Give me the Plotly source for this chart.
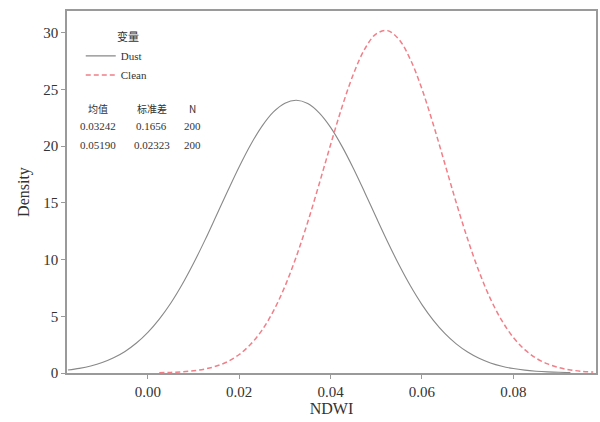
import plotly.graph_objects as go

# Density curves
x_dust = [-0.0175, -0.0150, -0.0125, -0.0100, -0.0075, -0.0050, -0.0025, 0.0000,
          0.0025, 0.0050, 0.0075, 0.0100, 0.0125, 0.0150, 0.0175, 0.0200,
          0.0225, 0.0250, 0.0275, 0.0300, 0.0325, 0.0350, 0.0375, 0.0400,
          0.0425, 0.0450, 0.0475, 0.0500, 0.0525, 0.0550, 0.0575, 0.0600,
          0.0625, 0.0650, 0.0675, 0.0700, 0.0725, 0.0750, 0.0775, 0.0800,
          0.0825, 0.0850, 0.0875, 0.0900, 0.0925]
y_dust = [0.26, 0.41, 0.62, 0.92, 1.34, 1.90, 2.64, 3.58,
          4.75, 6.15, 7.80, 9.67, 11.71, 13.88, 16.06, 18.18,
          20.12, 21.76, 23.01, 23.78, 24.03, 23.74, 22.92, 21.64,
          19.97, 18.02, 15.89, 13.70, 11.55, 9.51, 7.66, 6.03,
          4.64, 3.49, 2.57, 1.85, 1.30, 0.89, 0.60, 0.39,
          0.25, 0.16, 0.10, 0.06, 0.04]

x_clean = [0.0025, 0.0050, 0.0075, 0.0100, 0.0125, 0.0150, 0.0175, 0.0200,
           0.0225, 0.0250, 0.0275, 0.0300, 0.0325, 0.0350, 0.0375, 0.0400,
           0.0425, 0.0450, 0.0475, 0.0500, 0.0525, 0.0550, 0.0575, 0.0600,
           0.0625, 0.0650, 0.0675, 0.0700, 0.0725, 0.0750, 0.0775, 0.0800,
           0.0825, 0.0850, 0.0875, 0.0900, 0.0925, 0.0950, 0.0975]
y_clean = [0.03, 0.05, 0.11, 0.20, 0.35, 0.61, 1.01, 1.63,
           2.53, 3.78, 5.47, 7.63, 10.26, 13.30, 16.66, 20.12,
           23.44, 26.34, 28.57, 29.89, 30.17, 29.38, 27.60, 25.02,
           21.88, 18.46, 15.02, 11.80, 8.94, 6.53, 4.61, 3.13,
           2.06, 1.30, 0.80, 0.47, 0.27, 0.15, 0.08]

series_names = ["Dust", "Clean"]
legend_title = "变量"
table_header = ["均值", "标准差", "N"]
table_rows = [["0.03242", "0.1656", "200"],
              ["0.05190", "0.02323", "200"]]

x_ticks = [0.00, 0.02, 0.04, 0.06, 0.08]
y_ticks = [0, 5, 10, 15, 20, 25, 30]

serif = "Liberation Serif, Times New Roman, serif"
cjk = "Noto Sans CJK SC"

fig = go.Figure()
fig.add_trace(go.Scatter(x=x_dust, y=y_dust, mode="lines", name=series_names[0],
                         line=dict(color="#888888", width=1.1, shape="spline")))
fig.add_trace(go.Scatter(x=x_clean, y=y_clean, mode="lines", name=series_names[1],
                         line=dict(color="#f07f88", width=1.5, dash="5px,3px", shape="spline")))

# legend title as annotation
fig.add_annotation(x=0.115, y=0.931, xref="paper", yref="paper", text=legend_title,
                   xanchor="center", yanchor="middle", showarrow=False,
                   font=dict(family=cjk, size=11, color="#333"))

# table annotations
col_x = [0.058, 0.160, 0.237]
row_y = [0.732, 0.682, 0.630]
for cx, h in zip(col_x, table_header):
    fig.add_annotation(x=cx, y=row_y[0], xref="paper", yref="paper", text=h,
                       xanchor="center", yanchor="middle",
                       showarrow=False, font=dict(family=cjk, size=10, color="#333"))
for r, row in enumerate(table_rows):
    for cx, v in zip(col_x, row):
        fig.add_annotation(x=cx, y=row_y[r + 1], xref="paper", yref="paper", text=v,
                           xanchor="center", yanchor="middle",
                           showarrow=False, font=dict(family=serif, size=11, color="#333"))

fig.update_layout(
    width=600, height=422,
    margin=dict(l=67, r=2, t=11, b=49),
    paper_bgcolor="white", plot_bgcolor="white",
    font=dict(family=serif, color="#333"),
    showlegend=True,
    legend=dict(x=0.026, y=0.916, xanchor="left", yanchor="top",
                bgcolor="rgba(0,0,0,0)", font=dict(family=serif, size=11, color="#333"),
                itemwidth=30, tracegroupgap=0),
    xaxis=dict(range=[-0.0177, 0.0981], tickvals=x_ticks, tickformat=".2f",
               showgrid=False, zeroline=False, showline=True, linecolor="#9a9a9a",
               linewidth=1.5, mirror=True, ticks="outside", ticklen=4, tickcolor="#9a9a9a",
               tickfont=dict(family=serif, size=15, color="#333"),
               title=dict(text="NDWI", font=dict(family=serif, size=16, color="#333"), standoff=4)),
    yaxis=dict(range=[0, 31.9], tickvals=y_ticks, showgrid=False, zeroline=False,
               showline=True, linecolor="#9a9a9a", linewidth=1.5, mirror=True,
               ticks="outside", ticklen=4, tickcolor="#9a9a9a",
               tickfont=dict(family=serif, size=15, color="#333"),
               title=dict(text="Density", font=dict(family=serif, size=16, color="#333"), standoff=10)),
)

fig.write_html("out.html")
